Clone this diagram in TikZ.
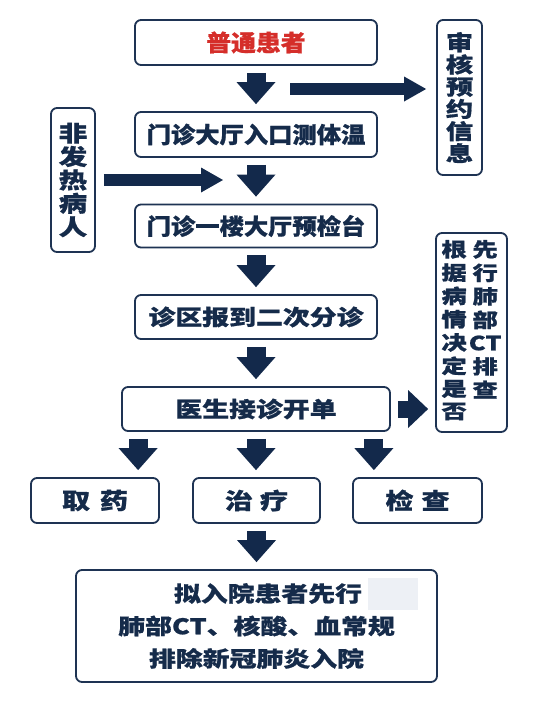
\documentclass[tikz,border=0pt]{standalone}
\usepackage{fontspec}
\setmainfont{Noto Sans CJK SC}[FakeStretch=1.08, BoldFeatures={FakeBold=0.8}]
\newfontfamily\widefont{Noto Sans CJK SC}[FakeStretch=1.25, BoldFeatures={FakeBold=0.8}]
\newfontfamily\vertfont{Noto Sans CJK SC}[FakeStretch=1.3, BoldFeatures={FakeBold=0.8}]
\usetikzlibrary{arrows.meta}

\definecolor{navy}{HTML}{13294B}
\definecolor{boxline}{HTML}{1E3353}
\definecolor{inkblue}{HTML}{152B4A}
\definecolor{alertred}{HTML}{D52E2A}
\definecolor{smudge}{HTML}{EDF0F5}

\tikzset{
  stepbox/.style={draw=boxline, line width=1.8pt, rounded corners=6pt, fill=white,
    text=inkblue, inner sep=0pt, align=center},
  bigarrow/.style={draw=navy, line width=19pt,
    -{Triangle[width=39pt,length=22pt,line width=0pt]},
    shorten <=7pt, shorten >=7pt},
  slimarrow/.style={draw=navy, line width=12pt,
    -{Triangle[width=25pt,length=22pt,line width=0pt]}},
  midarrow/.style={draw=navy, line width=17pt,
    -{Triangle[width=38pt,length=20pt,line width=0pt]},
    shorten <=7pt, shorten >=7pt},
}

\begin{document}
\begin{tikzpicture}[x=1pt,y=-1pt]
  \useasboundingbox[fill=white] (0,0) rectangle (535,718);

  % main line
  \node[stepbox, minimum width=242pt, minimum height=45pt, text=alertred,
    font=\bfseries\fontsize{23}{24}\selectfont] (patient) at (256,42.5) {普通患者};
  \node[stepbox, minimum width=242pt, minimum height=45pt,
    font=\bfseries\fontsize{22.5}{24}\selectfont] (temp) at (256,134.5) {门诊大厅入口测体温};
  \node[stepbox, minimum width=242pt, minimum height=43pt,
    font=\bfseries\fontsize{22.5}{24}\selectfont] (desk) at (256,226) {门诊一楼大厅预检台};
  \node[stepbox, minimum width=242pt, minimum height=44pt,
    font=\widefont\bfseries\fontsize{21.5}{24}\selectfont] (triage) at (256,317) {诊区报到二次分诊};
  \node[stepbox, minimum width=268pt, minimum height=44pt,
    font=\widefont\bfseries\fontsize{21.5}{24}\selectfont] (doctor) at (256,409) {医生接诊开单};

  % side boxes
  \node[stepbox, minimum width=45pt, minimum height=155pt,
    font=\vertfont\bfseries\fontsize{21}{22.2}\selectfont] (verify) at (459.5,97.5)
    {审\\核\\预\\约\\信\\息};
  \node[stepbox, minimum width=44pt, minimum height=144pt,
    font=\vertfont\bfseries\fontsize{22}{23.4}\selectfont] (nonfever) at (73,180)
    {非\\发\\热\\病\\人};
  \node[stepbox, minimum width=71pt, minimum height=199pt,
    font=\vertfont\bfseries\fontsize{19.5}{21.9}\selectfont] (ctbox) at (471.5,332.5)
    {\begin{tabular}[t]{@{}c@{}}根\\据\\病\\情\\决\\定\\是\\否\end{tabular}\hspace{2pt}%
     \renewcommand\arraystretch{1.046}%
     \begin{tabular}[t]{@{}c@{}}先\\行\\肺\\部\\CT\\排\\查\end{tabular}};

  % outcomes
  \node[stepbox, minimum width=128pt, minimum height=45pt,
    font=\widefont\bfseries\fontsize{22.5}{24}\selectfont] (drug) at (95,500.5) {取\hspace{10pt}药};
  \node[stepbox, minimum width=127pt, minimum height=45pt,
    font=\widefont\bfseries\fontsize{22.5}{24}\selectfont] (treat) at (256.5,500.5) {治\hspace{7pt}疗};
  \node[stepbox, minimum width=129pt, minimum height=45pt,
    font=\widefont\bfseries\fontsize{22.5}{24}\selectfont] (check) at (417.5,500.5) {检\hspace{8pt}查};
  \node[stepbox, minimum width=361pt, minimum height=112pt,
    font=\widefont\bfseries\fontsize{21.5}{32.5}\selectfont] (admit) at (256.5,626)
    {\hspace*{23pt}拟入院患者先行\\肺部CT、核酸、血常规\\排除新冠肺炎入院};
  \fill[smudge] (368,578) rectangle (418,610);

  % arrows
  \coordinate (vtail) at (290,89);
  \coordinate (ftip) at (223,180);
  \coordinate (ltail) at ([xshift=17pt]doctor.south west);
  \coordinate (rtail) at ([xshift=-17pt]doctor.south east);

  \draw[bigarrow] (patient) -- (temp);
  \draw[slimarrow, shorten >=10pt] (vtail) -- (vtail -| verify.west);
  \draw[slimarrow, shorten <=8pt] (nonfever.east) -- (ftip);
  \draw[bigarrow] (temp) -- (desk);
  \draw[bigarrow] (desk) -- (triage);
  \draw[bigarrow] (triage) -- (doctor);
  \draw[midarrow] (doctor.east) -- (doctor.east -| ctbox.west);
  \draw[bigarrow] (ltail) -- (ltail |- drug.north);
  \draw[bigarrow] (doctor.south) -- (doctor.south |- treat.north);
  \draw[bigarrow] (rtail) -- (rtail |- check.north);
  \draw[bigarrow] (treat) -- (admit);
\end{tikzpicture}
\end{document}
